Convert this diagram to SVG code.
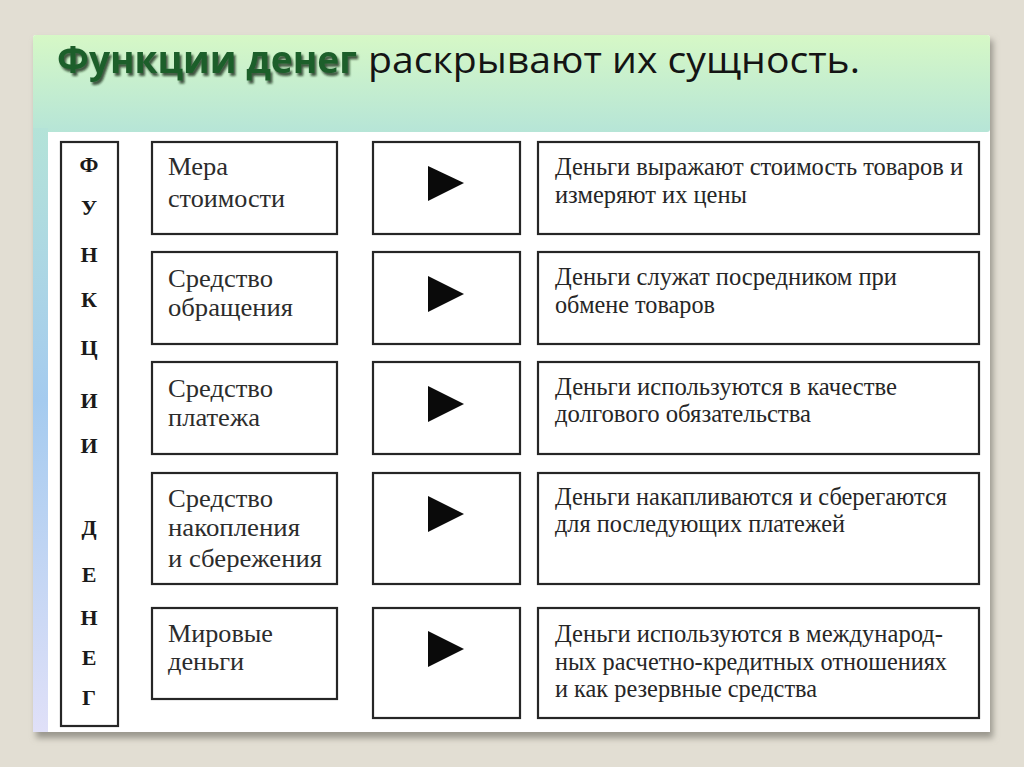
<svg xmlns="http://www.w3.org/2000/svg" width="1024" height="767" viewBox="0 0 1024 767">
<defs>
<linearGradient id="topg" x1="0" y1="0" x2="0" y2="1">
<stop offset="0" stop-color="#d6f8c6"/>
<stop offset="1" stop-color="#b6e5d7"/>
</linearGradient>
<linearGradient id="leftg" x1="0" y1="0" x2="0" y2="1">
<stop offset="0" stop-color="#b4e3d8"/>
<stop offset="0.45" stop-color="#a5cbef"/>
<stop offset="1" stop-color="#e0e0f8"/>
</linearGradient>
<filter id="sh" x="-5%" y="-5%" width="110%" height="115%">
<feGaussianBlur stdDeviation="3"/>
</filter>
<filter id="tsh" x="-5%" y="-30%" width="115%" height="170%">
<feDropShadow dx="2" dy="3" stdDeviation="1.3" flood-color="#0a2410" flood-opacity="0.75"/>
</filter>
<style>
.box{fill:#ffffff;stroke:#262626;stroke-width:2.2}
.lbl{font-family:"Liberation Serif","Times New Roman",serif;font-size:26px;fill:#2c2c2c}
.txt{font-family:"Liberation Serif","Times New Roman",serif;font-size:25px;fill:#262626}
.vl{font-family:"Liberation Serif","Times New Roman",serif;font-size:22px;font-weight:bold;fill:#1a1a1a;text-anchor:middle}
.tri{fill:#0a0a0a}
.ttl{font-family:"Open Sans","Noto Sans",sans-serif;font-size:37px}
</style>
</defs>
<rect x="0" y="0" width="1024" height="767" fill="#e2ded3"/>
<g id="panel">
<rect x="36" y="40" width="957" height="698" fill="#9a978d" filter="url(#sh)"/>
<rect x="33" y="35" width="957" height="697" rx="3" fill="#ffffff"/>
<rect x="33" y="35" width="957" height="97" rx="3" fill="url(#topg)"/>
<rect x="33" y="128" width="15" height="604" fill="url(#leftg)"/>
<rect x="48" y="132" width="942" height="600" fill="#ffffff"/>
</g>
<g id="title">
<text class="ttl" x="57" y="73" font-weight="bold" fill="#1e5e2c" filter="url(#tsh)" textLength="300" lengthAdjust="spacingAndGlyphs">Функции денег</text>
<text class="ttl" x="368" y="73" fill="#141414" textLength="492" lengthAdjust="spacingAndGlyphs">раскрывают их сущность.</text>
</g>
<g id="vertical-label">
<rect class="box" x="61" y="142" width="57" height="584"/>
<text class="vl" x="89" y="172">Ф</text>
<text class="vl" x="89" y="215">У</text>
<text class="vl" x="89" y="262">Н</text>
<text class="vl" x="89" y="307">К</text>
<text class="vl" x="89" y="355">Ц</text>
<text class="vl" x="89" y="408">И</text>
<text class="vl" x="89" y="453">И</text>
<text class="vl" x="89" y="535">Д</text>
<text class="vl" x="89" y="582">Е</text>
<text class="vl" x="89" y="625">Н</text>
<text class="vl" x="89" y="665">Е</text>
<text class="vl" x="89" y="705">Г</text>
</g>
<g id="f1">
<rect class="box" x="152" y="142" width="185" height="92"/>
<text class="lbl" x="168" y="175" textLength="60" lengthAdjust="spacingAndGlyphs">Мера</text>
<text class="lbl" x="168" y="207" textLength="117" lengthAdjust="spacingAndGlyphs">стоимости</text>
</g>
<g id="a1">
<rect class="box" x="373" y="142" width="147" height="92"/>
<polygon class="tri" points="428,166 464,183 428,201"/>
</g>
<g id="d1">
<rect class="box" x="538" y="142" width="441" height="92"/>
<text class="txt" x="555" y="175" textLength="408" lengthAdjust="spacingAndGlyphs">Деньги выражают стоимость товаров и</text>
<text class="txt" x="555" y="203" textLength="192" lengthAdjust="spacingAndGlyphs">измеряют их цены</text>
</g>
<g id="f2">
<rect class="box" x="152" y="252" width="185" height="92"/>
<text class="lbl" x="168" y="287" textLength="105" lengthAdjust="spacingAndGlyphs">Средство</text>
<text class="lbl" x="168" y="316" textLength="125" lengthAdjust="spacingAndGlyphs">обращения</text>
</g>
<g id="a2">
<rect class="box" x="373" y="252" width="147" height="92"/>
<polygon class="tri" points="428,276 464,294 428,312"/>
</g>
<g id="d2">
<rect class="box" x="538" y="252" width="441" height="92"/>
<text class="txt" x="555" y="285" textLength="342" lengthAdjust="spacingAndGlyphs">Деньги служат посредником при</text>
<text class="txt" x="555" y="313" textLength="160" lengthAdjust="spacingAndGlyphs">обмене товаров</text>
</g>
<g id="f3">
<rect class="box" x="152" y="362" width="185" height="92"/>
<text class="lbl" x="168" y="397" textLength="105" lengthAdjust="spacingAndGlyphs">Средство</text>
<text class="lbl" x="168" y="426" textLength="92" lengthAdjust="spacingAndGlyphs">платежа</text>
</g>
<g id="a3">
<rect class="box" x="373" y="362" width="147" height="92"/>
<polygon class="tri" points="428,386 464,404 428,422"/>
</g>
<g id="d3">
<rect class="box" x="538" y="362" width="441" height="92"/>
<text class="txt" x="555" y="395" textLength="342" lengthAdjust="spacingAndGlyphs">Деньги используются в качестве</text>
<text class="txt" x="555" y="422" textLength="256" lengthAdjust="spacingAndGlyphs">долгового обязательства</text>
</g>
<g id="f4">
<rect class="box" x="152" y="473" width="185" height="111"/>
<text class="lbl" x="168" y="507" textLength="105" lengthAdjust="spacingAndGlyphs">Средство</text>
<text class="lbl" x="168" y="536" textLength="132" lengthAdjust="spacingAndGlyphs">накопления</text>
<text class="lbl" x="168" y="567" textLength="154" lengthAdjust="spacingAndGlyphs">и сбережения</text>
</g>
<g id="a4">
<rect class="box" x="373" y="473" width="147" height="111"/>
<polygon class="tri" points="428,496 464,514 428,532"/>
</g>
<g id="d4">
<rect class="box" x="538" y="473" width="441" height="111"/>
<text class="txt" x="555" y="505" textLength="392" lengthAdjust="spacingAndGlyphs">Деньги накапливаются и сберегаются</text>
<text class="txt" x="555" y="532" textLength="290" lengthAdjust="spacingAndGlyphs">для последующих платежей</text>
</g>
<g id="f5">
<rect class="box" x="152" y="608" width="185" height="91"/>
<text class="lbl" x="168" y="642" textLength="105" lengthAdjust="spacingAndGlyphs">Мировые</text>
<text class="lbl" x="168" y="670" textLength="76" lengthAdjust="spacingAndGlyphs">деньги</text>
</g>
<g id="a5">
<rect class="box" x="373" y="608" width="147" height="110"/>
<polygon class="tri" points="428,631 464,649 428,667"/>
</g>
<g id="d5">
<rect class="box" x="538" y="608" width="441" height="110"/>
<text class="txt" x="555" y="642" textLength="388" lengthAdjust="spacingAndGlyphs">Деньги используются в международ-</text>
<text class="txt" x="555" y="670" textLength="392" lengthAdjust="spacingAndGlyphs">ных расчетно-кредитных отношениях</text>
<text class="txt" x="555" y="697" textLength="262" lengthAdjust="spacingAndGlyphs">и как резервные средства</text>
</g>
</svg>
